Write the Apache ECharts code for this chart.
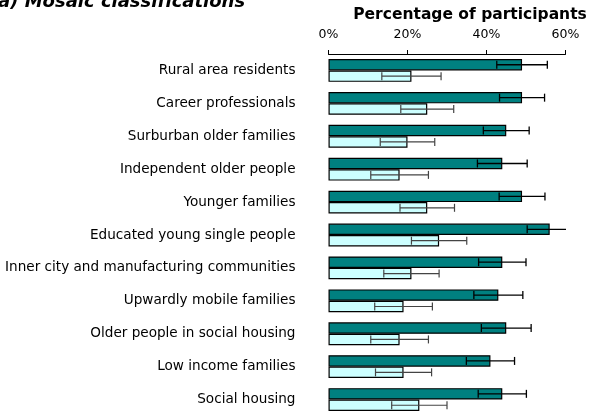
<!DOCTYPE html>
<html>
<head>
<meta charset="utf-8">
<script src="https://cdn.jsdelivr.net/npm/echarts@6/dist/echarts.min.js"></script>
<style>html,body{margin:0;padding:0;background:#fff}#c{width:591px;height:416px}</style>
</head>
<body>
<div id="c"></div>
<script>
var categories = ['Rural area residents','Career professionals','Surburban older families','Independent older people','Younger families','Educated young single people','Inner city and manufacturing communities','Upwardly mobile families','Older people in social housing','Low income families','Social housing'];
var darkValues = [49, 49, 45, 44, 49, 56, 44, 43, 45, 41, 44];
var darkErrors = [6.4, 5.7, 5.8, 6.3, 5.8, 5.7, 6.0, 6.2, 6.3, 6.1, 6.1];
var lightValues = [21, 25, 20, 18, 25, 28, 21, 19, 18, 19, 23];
var lightErrors = [7.5, 6.7, 6.9, 7.3, 6.9, 7.0, 7.0, 7.3, 7.3, 7.1, 7.0];
var xTicks = [0, 20, 40, 60];

var BAR_W = 11.4;
var chart = echarts.init(document.getElementById('c'), null, {renderer: 'canvas'});

function errData(vals, errs) {
  return vals.map(function (v, i) { return [v - errs[i], v + errs[i], i]; });
}
function errRender(side, color, width) {
  return function (params, api) {
    var lo = api.value(0), hi = api.value(1), idx = api.value(2);
    var p1 = api.coord([lo, idx]);
    var p2 = api.coord([hi, idx]);
    var y = p1[1] + side * BAR_W / 2;
    var cap = 4;
    var cs = params.coordSys;
    var children = [{
      type: 'line', shape: {x1: p1[0], y1: y, x2: p2[0], y2: y},
      style: {stroke: color, lineWidth: width}
    }, {
      type: 'line', shape: {x1: p1[0], y1: y - cap, x2: p1[0], y2: y + cap},
      style: {stroke: color, lineWidth: width}
    }];
    if (p2[0] <= cs.x + cs.width) {
      children.push({
        type: 'line', shape: {x1: p2[0], y1: y - cap, x2: p2[0], y2: y + cap},
        style: {stroke: color, lineWidth: width}
      });
    }
    return {type: 'group', children: children};
  };
}

var option = {
  animation: false,
  backgroundColor: '#fff',
  graphic: [{
    type: 'text', x: -2, y: 2.5,
    style: {text: 'a) Mosaic classifications', font: 'italic bold 18px "DejaVu Sans"', fill: '#000', textVerticalAlign: 'middle', textAlign: 'left'}
  }],
  grid: {left: 328.5, right: 25.5, top: 54, height: 365.6, containLabel: false},
  xAxis: {
    type: 'value', position: 'top', min: xTicks[0], max: xTicks[xTicks.length - 1], interval: 20,
    name: 'Percentage of participants', nameLocation: 'middle', nameGap: 28,
    nameTextStyle: {fontFamily: 'DejaVu Sans', fontWeight: 'bold', fontSize: 15.5, color: '#000', padding: [0, 0, 0, 46]},
    axisLine: {show: true, lineStyle: {color: '#000', width: 1}},
    axisTick: {show: true, length: 4, inside: false, lineStyle: {color: '#000'}},
    axisLabel: {formatter: '{value}%', fontFamily: 'DejaVu Sans', fontSize: 12.5, color: '#000', margin: 13},
    splitLine: {show: false}
  },
  yAxis: {
    type: 'category', data: categories, inverse: true,
    axisLine: {show: false}, axisTick: {show: false},
    axisLabel: {fontFamily: 'DejaVu Sans', fontSize: 13.6, color: '#000', margin: 33}
  },
  series: [{
    type: 'bar', data: darkValues, barWidth: BAR_W, barGap: '0%',
    itemStyle: {color: '#008080', borderColor: '#000', borderWidth: 1.2}
  }, {
    type: 'bar', data: lightValues, barWidth: BAR_W, barGap: '0%',
    itemStyle: {color: '#CCFFFF', borderColor: '#000', borderWidth: 1.2}
  }, {
    type: 'custom', clip: true, z: 5,
    data: errData(darkValues, darkErrors),
    encode: {x: [0, 1], y: 2},
    renderItem: errRender(-1, '#000', 1.3)
  }, {
    type: 'custom', clip: true, z: 5,
    data: errData(lightValues, lightErrors),
    encode: {x: [0, 1], y: 2},
    renderItem: errRender(1, '#444', 1.2)
  }]
};
chart.setOption(option);
</script>
</body>
</html>
